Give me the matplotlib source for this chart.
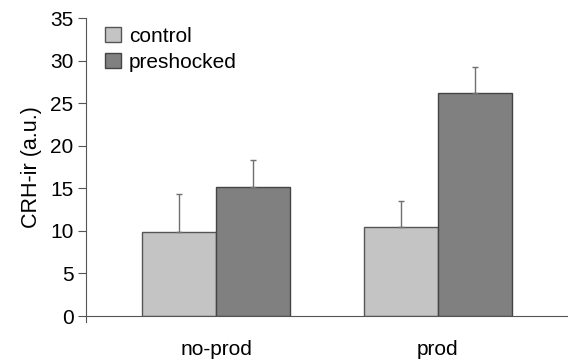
import matplotlib
matplotlib.use("Agg")
import matplotlib.pyplot as plt
import numpy as np

plt.rcParams['font.family'] = ['Liberation Sans', 'DejaVu Sans']

groups = ["no-prod", "prod"]
control = [9.85, 10.5]
control_err = [4.45, 3.0]
preshocked = [15.15, 26.2]
preshocked_err = [3.15, 3.1]

x = np.arange(len(groups))
w = 0.333

fig = plt.figure(figsize=(5.68, 3.64), dpi=100)
ax = fig.add_axes([86/568, 48/364, 1 - 86/568, (316 - 18.3)/364])

err_kw = dict(ecolor="#707070", elinewidth=1, capsize=2.5, capthick=1)
ax.bar(x - w/2, control, w, color="#c4c4c4", edgecolor="#555555", linewidth=1,
       yerr=[np.zeros(2), control_err], error_kw=err_kw, label="control")
ax.bar(x + w/2, preshocked, w, color="#808080", edgecolor="#444444", linewidth=1,
       yerr=[np.zeros(2), preshocked_err], error_kw=err_kw, label="preshocked")

ax.set_xlim(-0.586, 1.586)
ax.set_ylim(0, 35)
ax.set_yticks(np.arange(0, 36, 5))
ax.set_xticks(x)
ax.set_xticklabels(groups)
ax.tick_params(axis="x", length=0, pad=17, labelsize=15)
ax.tick_params(axis="y", length=6, width=0.8, color="#555555", labelsize=15, pad=3)
ax.set_ylabel("CRH-ir (a.u.)", fontsize=15.5, labelpad=6)

for s in ["top", "right"]:
    ax.spines[s].set_visible(False)
ax.spines["left"].set_color("#555555")
ax.spines["bottom"].set_color("#555555")
ax.spines["left"].set_bounds(-0.7, 35)

leg = ax.legend(loc="upper left", bbox_to_anchor=(0.022, 1.0), frameon=False,
                fontsize=15, handlelength=0.75, handleheight=0.75,
                handletextpad=0.4, labelspacing=0.35, borderaxespad=0)

fig.savefig("out.png", dpi=100)
